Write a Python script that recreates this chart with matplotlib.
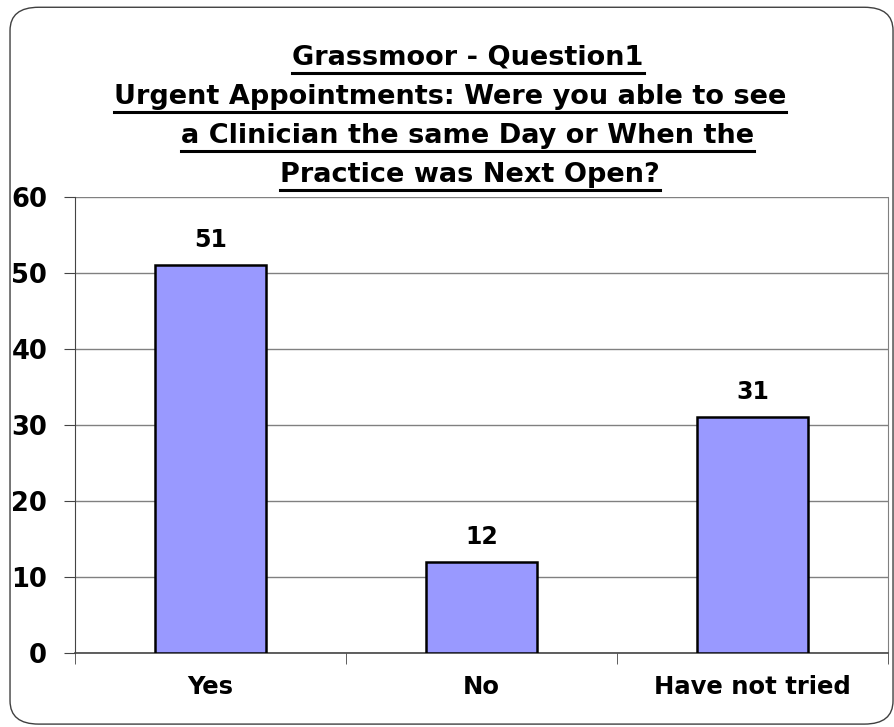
import matplotlib
matplotlib.use('agg')
import matplotlib.pyplot as plt
from matplotlib.patches import FancyBboxPatch
from matplotlib.lines import Line2D

categories = ['Yes', 'No', 'Have not tried']
values = [51, 12, 31]
title_lines = ['Grassmoor - Question1',
               'Urgent Appointments: Were you able to see',
               'a Clinician the same Day or When the',
               'Practice was Next Open?']

plt.rcParams['font.family'] = ['DejaVu Sans']
fig = plt.figure(figsize=(8.95, 7.27), dpi=100)

# rounded border round the whole chart
fig.patches.append(FancyBboxPatch((0.0112, 0.004), 0.9866, 0.986,
                                  boxstyle='round,pad=0,rounding_size=0.032',
                                  transform=fig.transFigure, fill=False,
                                  edgecolor='#404040', linewidth=1.0))

ax = fig.add_axes([0.0838, 0.1018, 0.9082, 0.6272])
x = range(len(categories))
bars = ax.bar(x, values, width=0.41, color='#9999ff', edgecolor='black',
              linewidth=1.8, zorder=3)
ax.set_xlim(-0.5, 2.5)
ax.set_ylim(0, 60)
ax.set_yticks(range(0, 61, 10))
ax.yaxis.grid(True, color='#808080', linewidth=1.0, zorder=0)
ax.set_axisbelow(True)

ax.set_xticks([i for i in x])
ax.set_xticklabels(categories, fontsize=17.5, fontweight='bold')
ax.tick_params(axis='x', length=0, pad=16)
ax.set_xticks([-0.5, 0.5, 1.5, 2.5], minor=True)
ax.tick_params(axis='x', which='minor', length=8, direction='out', color='#444444')
ax.tick_params(axis='y', length=8, direction='out', color='#444444', pad=12)
for lab in ax.get_yticklabels():
    lab.set_fontsize(18.5)
    lab.set_fontweight('bold')

ax.spines['top'].set_visible(False)
ax.spines['right'].set_color('#808080')
ax.spines['left'].set_color('#444444')
ax.spines['bottom'].set_color('#444444')
ax.spines['bottom'].set_linewidth(1.2)

for b, v in zip(bars, values):
    ax.annotate(str(v), (b.get_x() + b.get_width() / 2, v), xytext=(0, 13),
                textcoords='offset points', ha='center', va='baseline',
                fontsize=17, fontweight='bold')

# title, one text per line so each can be underlined
ys = [0.9106, 0.8569, 0.8033, 0.7497]
xs = [0.523, 0.503, 0.522, 0.525]
texts = []
for t, xx, y in zip(title_lines, xs, ys):
    texts.append(fig.text(xx, y, t, ha='center', va='baseline',
                          fontsize=19.5, fontweight='bold'))

fig.canvas.draw()
r = fig.canvas.get_renderer()
inv = fig.transFigure.inverted()
for t, y in zip(texts, ys):
    bb = t.get_window_extent(r)
    (x0, _), (x1, _) = inv.transform([(bb.x0, bb.y0), (bb.x1, bb.y1)])
    yl = y - 8.0 / 727
    fig.lines.append(Line2D([x0, x1], [yl, yl], transform=fig.transFigure,
                            color='black', linewidth=2.2))

plt.savefig('out.png')
